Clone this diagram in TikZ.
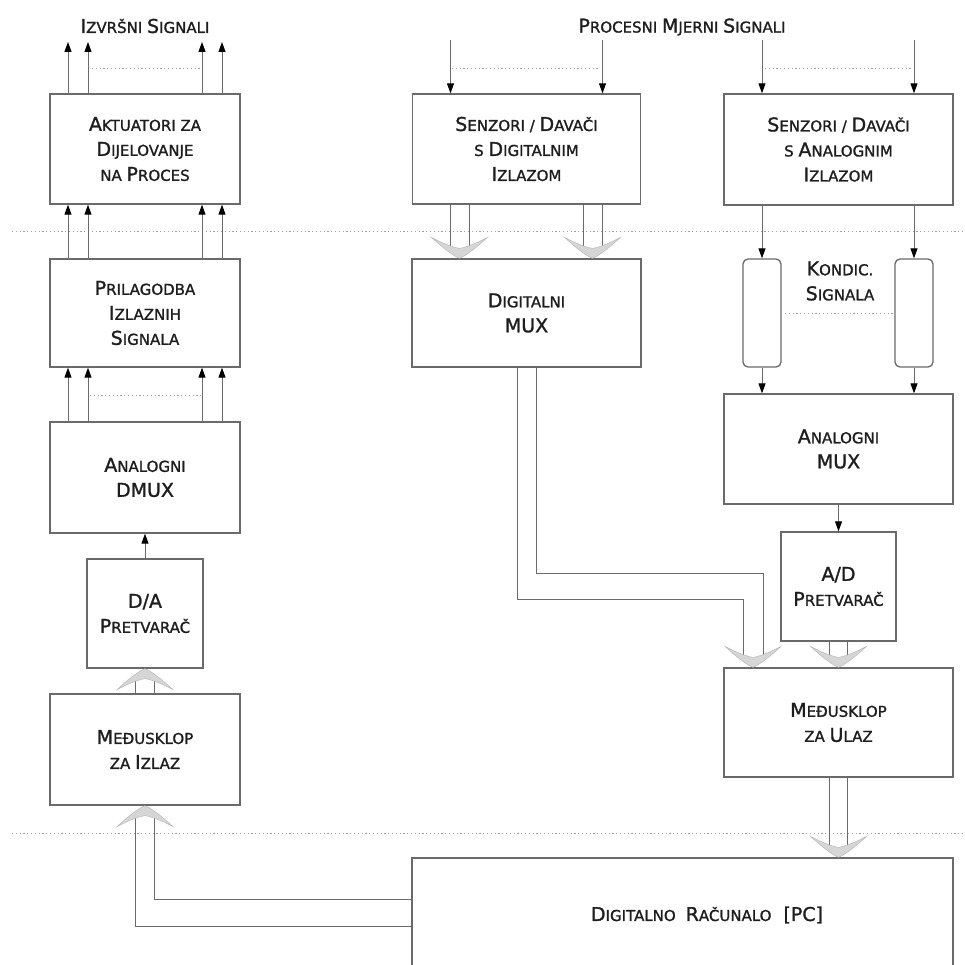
\documentclass[tikz,border=0pt]{standalone}
\usepackage{fontspec}
\setmainfont{DejaVu Sans}[BoldFont={DejaVu Sans},BoldFeatures={FakeBold=1.3}]
\usetikzlibrary{arrows.meta,calc}
\newcommand\bc[1]{{\fontsize{19}{25}\selectfont #1}}
\definecolor{lnc}{HTML}{6A6A6A}
\definecolor{txc}{HTML}{1E1E1E}
\begin{document}
\begin{tikzpicture}[x=1pt,y=-1pt,
  box/.style={draw=lnc, line width=1.3pt, text=txc, font=\bfseries\fontsize{15}{25}\selectfont, align=center, inner sep=0pt},
  kbox/.style={box, rounded corners=5pt},
  ttl/.style={text=txc, font=\bfseries\fontsize{15}{25}\selectfont, align=center, inner sep=0pt},
  arr/.style={draw=lnc, line width=1pt, -{Triangle[length=10pt,width=7pt,color=black]}},
  wire/.style={draw=lnc, line width=1pt},
  sep/.style={draw=gray!75, line width=0.9pt, dash pattern=on 1.2pt off 2.6pt},
  chev/.pic={\filldraw[fill=gray!32, draw=gray!60, line width=0.4pt]
     (-28,-21) .. controls (-14,-8) and (-5,-2) .. (0,0)
     .. controls (5,-2) and (14,-8) .. (28,-21)
     .. controls (15,-14) and (6,-11) .. (0,-10)
     .. controls (-6,-11) and (-15,-14) .. cycle;}
]
\clip (0,0) rectangle (965,965);
\fill[white] (0,0) rectangle (965,965);

% separators
\draw[sep] (12,231) -- (965,231);
\draw[sep] (12,833) -- (965,833);

% titles
\node[ttl] (izv) at (145,26) {\bc{I}ZVRŠNI \bc{S}IGNALI};
\node[ttl] (pms) at (682,27) {\bc{P}ROCESNI \bc{M}JERNI \bc{S}IGNALI};

% left column
\node[box, minimum width=190pt, minimum height=110pt] (akt) at (145,149) {\bc{A}KTUATORI ZA\\\bc{D}IJELOVANJE\\NA \bc{P}ROCES};
\node[box, minimum width=190pt, minimum height=108pt] (pril) at (145,313) {\bc{P}RILAGODBA\\\bc{I}ZLAZNIH\\\bc{S}IGNALA};
\node[box, minimum width=190pt, minimum height=111pt] (dmux) at (145,477.5) {\bc{A}NALOGNI\\\bc{DMUX}};
\node[box, minimum width=116pt, minimum height=109pt] (da) at (145,613.5) {\bc{D/A}\\\bc{P}RETVARAČ};
\node[box, minimum width=190pt, minimum height=111pt] (mi) at (145,749.5) {\bc{M}EĐUSKLOP\\ZA \bc{I}ZLAZ};

% right side
\node[box, minimum width=228pt, minimum height=110pt] (sd) at (526.5,149) {\bc{S}ENZORI / \bc{D}AVAČI\\S \bc{D}IGITALNIM\\\bc{I}ZLAZOM};
\node[box, minimum width=229pt, minimum height=111pt] (sa) at (838.5,149.5) {\bc{S}ENZORI / \bc{D}AVAČI\\S \bc{A}NALOGNIM\\\bc{I}ZLAZOM};
\node[box, minimum width=229pt, minimum height=108pt] (dm) at (526.5,313) {\bc{D}IGITALNI\\\bc{MUX}};
\node[kbox, minimum width=38pt, minimum height=108pt] (k1) at (762,313) {};
\node[kbox, minimum width=38pt, minimum height=108pt] (k2) at (914,313) {};
\node[ttl] (kt) at (840,281) {\bc{K}ONDIC.\\\bc{S}IGNALA};
\node[box, minimum width=229pt, minimum height=110pt] (amux) at (838.5,449) {\bc{A}NALOGNI\\\bc{MUX}};
\node[box, minimum width=115pt, minimum height=109pt] (ad) at (838.5,586.5) {\bc{A/D}\\\bc{P}RETVARAČ};
\node[box, minimum width=229pt, minimum height=109pt] (mu) at (838.5,722.5) {\bc{M}EĐUSKLOP\\ZA \bc{U}LAZ};
\node[box, minimum width=541pt, minimum height=114pt] (pc) at (682.5,915) {};
\node[ttl] (pct) at (707,915) {\bc{D}IGITALNO\hspace{10pt}\bc{R}AČUNALO\hspace{12pt}\bc{[PC]}};

% free ends
\coordinate (itop) at (145,42);
\coordinate (ptop1) at (526.5,40);
\coordinate (ptop2) at (838.5,40);

% left column arrows
\foreach \d in {-77,-57,57,77} {
  \draw[arr] ($(akt.north)+(\d,0)$) -- ($(itop)+(\d,0)$);
  \draw[arr] ($(pril.north)+(\d,0)$) -- ($(akt.south)+(\d,0)$);
  \draw[arr] ($(dmux.north)+(\d,0)$) -- ($(pril.south)+(\d,0)$);
}
\draw[sep] (92,68) -- (200,68);
\draw[sep] (90,395) -- (202,395);
\draw[arr] (da.north) -- (dmux.south);

% Medjusklop za izlaz -> D/A
\foreach \d in {-9.5,9.5} \draw[wire] ($(mi.north)+(\d,0)$) -- ($(da.south)+(\d,10)$);
\pic[yscale=-1] at (da.south) {chev};

% PC -> Medjusklop za izlaz
\draw[wire] ($(mi.south)+(-9.5,10)$) |- ($(pc.north west)+(0,69)$);
\draw[wire] ($(mi.south)+(9.5,10)$) |- ($(pc.north west)+(0,42)$);
\pic[yscale=-1] at (mi.south) {chev};

% digital sensors
\foreach \d in {-76,76} \draw[arr] ($(ptop1)+(\d,0)$) -- ($(sd.north)+(\d,0)$);
\draw[sep] (452,68) -- (600,68);
\foreach \c in {-67,66} {
  \draw[wire] ($(sd.south)+(\c-9.5,0)$) -- ($(dm.north)+(\c-9.5,-10)$);
  \draw[wire] ($(sd.south)+(\c+9.5,0)$) -- ($(dm.north)+(\c+9.5,-10)$);
  \pic at ($(dm.north)+(\c,0)$) {chev};
}

% analog sensors
\draw[arr] (ptop2 -| k1) -- (sa.north -| k1);
\draw[arr] (ptop2 -| k2) -- (sa.north -| k2);
\draw[sep] (765,68) -- (912,68);
\draw[arr] (sa.south -| k1) -- (k1.north);
\draw[arr] (sa.south -| k2) -- (k2.north);
\draw[sep] (785,313) -- (893,313);
\draw[arr] (k1.south) -- (k1.south |- amux.north);
\draw[arr] (k2.south) -- (k2.south |- amux.north);
\draw[arr] (amux.south) -- (ad.north);

% A/D -> Medjusklop za ulaz
\foreach \d in {-9,9} \draw[wire] ($(ad.south)+(\d,0)$) -- ($(mu.north)+(\d,-10)$);
\pic at (mu.north) {chev};

% Digital MUX -> Medjusklop za ulaz
\coordinate (c1) at ($(mu.north)+(-85.5,0)$);
\draw[wire] ($(dm.south)+(-9.5,0)$) -- ($(dm.south)+(-9.5,232)$) -| ($(c1)+(-10,-10)$);
\draw[wire] ($(dm.south)+(9.5,0)$) -- ($(dm.south)+(9.5,206)$) -| ($(c1)+(10,-10)$);
\pic at (c1) {chev};

% Medjusklop za ulaz -> PC
\coordinate (c3) at (mu.south |- pc.north);
\foreach \d in {-9,9} \draw[wire] ($(mu.south)+(\d,0)$) -- ($(c3)+(\d,-10)$);
\pic at (c3) {chev};
\end{tikzpicture}
\end{document}
